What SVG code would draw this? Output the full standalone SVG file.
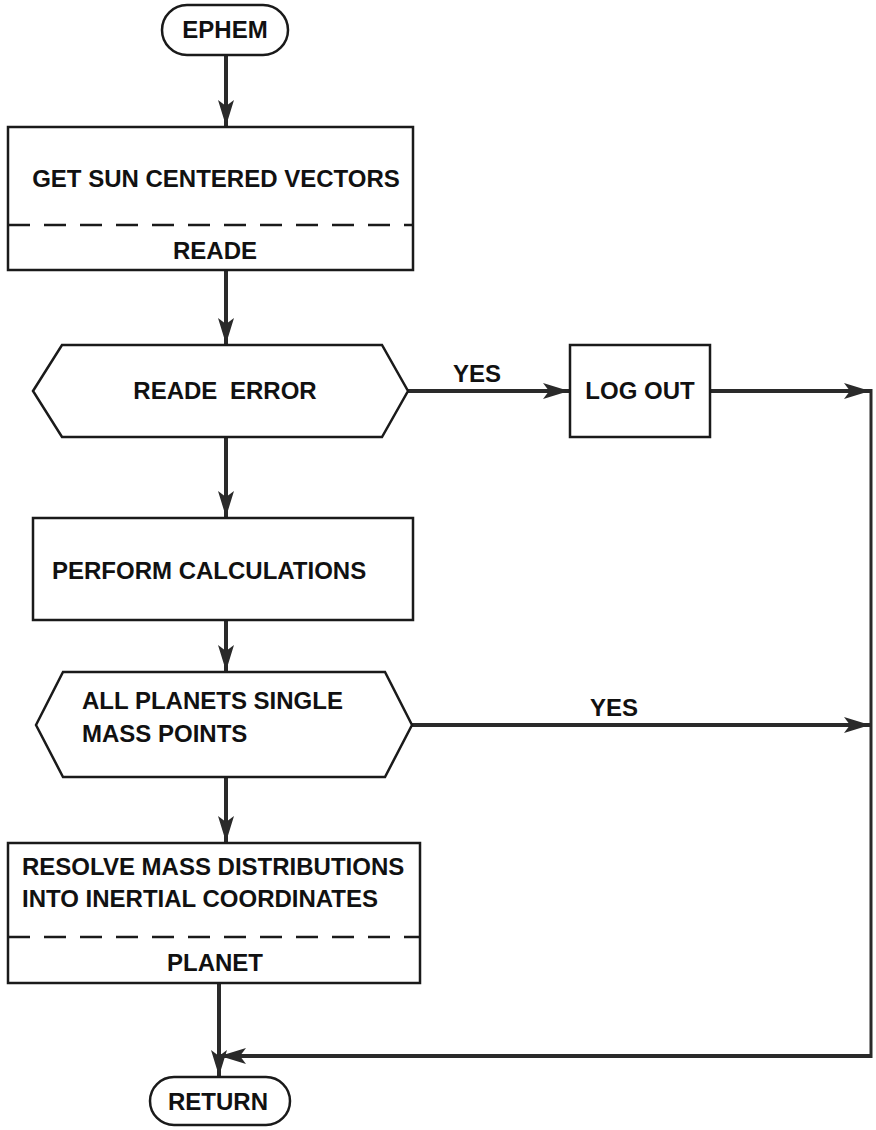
<svg xmlns="http://www.w3.org/2000/svg" width="876" height="1130" viewBox="0 0 876 1130">
<defs>
<style>
.shape{fill:#fff;stroke:#1a1a1a;stroke-width:2.5}
.dash{stroke:#1a1a1a;stroke-width:2.5;stroke-dasharray:22 14;fill:none}
.t{font-family:"Liberation Sans",Arial,sans-serif;font-weight:bold;font-size:24px;fill:#111}
.c{text-anchor:middle}
.flow{stroke:#2a2a2a;stroke-width:4;fill:none}
</style>
<marker id="ah" markerUnits="userSpaceOnUse" markerWidth="28" markerHeight="18" refX="26" refY="9" orient="auto">
<path d="M0,1 L26,9 L0,17 L6,9 Z" fill="#2a2a2a"/>
</marker>
</defs>
<rect width="876" height="1130" fill="#fff"/>

<g id="connectors">
<line class="flow" x1="226" y1="55" x2="226" y2="126" marker-end="url(#ah)"/>
<line class="flow" x1="226" y1="270" x2="226" y2="344" marker-end="url(#ah)"/>
<line class="flow" x1="408" y1="391" x2="569" y2="391" marker-end="url(#ah)"/>
<text class="t" x="453" y="382" font-size="21">YES</text>
<line class="flow" x1="710" y1="391" x2="870" y2="391" marker-end="url(#ah)"/>
<line class="flow" x1="226" y1="437" x2="226" y2="517" marker-end="url(#ah)"/>
<line class="flow" x1="226" y1="620" x2="226" y2="671" marker-end="url(#ah)"/>
<line class="flow" x1="412" y1="725" x2="870" y2="725" marker-end="url(#ah)"/>
<text class="t" x="590" y="716" font-size="21">YES</text>
<line class="flow" x1="226" y1="777" x2="226" y2="842" marker-end="url(#ah)"/>
<line x1="871" y1="389" x2="871" y2="1058" stroke="#2a2a2a" stroke-width="3"/>
<line class="flow" x1="871" y1="1056" x2="220" y2="1056" marker-end="url(#ah)"/>
<line class="flow" x1="219" y1="983" x2="219" y2="1076" marker-end="url(#ah)"/>
</g>

<g id="ephem">
<rect class="shape" x="162" y="5" width="126" height="50" rx="25" ry="25"/>
<text class="t c" x="225" y="38" font-size="22">EPHEM</text>
</g>

<g id="get-sun">
<rect class="shape" x="8" y="127" width="405" height="143"/>
<line class="dash" x1="8" y1="225" x2="413" y2="225"/>
<text class="t c" x="216" y="187">GET SUN CENTERED VECTORS</text>
<text class="t c" x="215" y="259">READE</text>
</g>

<g id="reade-error">
<polygon class="shape" points="33,391 62,345 382,345 408,391 382,437 62,437"/>
<text class="t c" x="225" y="399" word-spacing="6">READE ERROR</text>
</g>

<g id="log-out">
<rect class="shape" x="570" y="345" width="140" height="92"/>
<text class="t c" x="640" y="399">LOG OUT</text>
</g>

<g id="perform">
<rect class="shape" x="33" y="518" width="380" height="102"/>
<text class="t" x="52" y="579">PERFORM CALCULATIONS</text>
</g>

<g id="all-planets">
<polygon class="shape" points="36,725 63,672 385,672 412,725 385,777 63,777"/>
<text class="t" x="82" y="709">ALL PLANETS SINGLE</text>
<text class="t" x="82" y="742">MASS POINTS</text>
</g>

<g id="resolve">
<rect class="shape" x="8" y="843" width="412" height="140"/>
<line class="dash" x1="8" y1="937" x2="420" y2="937"/>
<text class="t" x="22" y="875">RESOLVE MASS DISTRIBUTIONS</text>
<text class="t" x="22" y="907">INTO INERTIAL COORDINATES</text>
<text class="t c" x="215" y="971">PLANET</text>
</g>

<g id="return">
<rect class="shape" x="150" y="1077" width="140" height="48" rx="24" ry="24"/>
<text class="t c" x="218" y="1110" font-size="23">RETURN</text>
</g>
</svg>
